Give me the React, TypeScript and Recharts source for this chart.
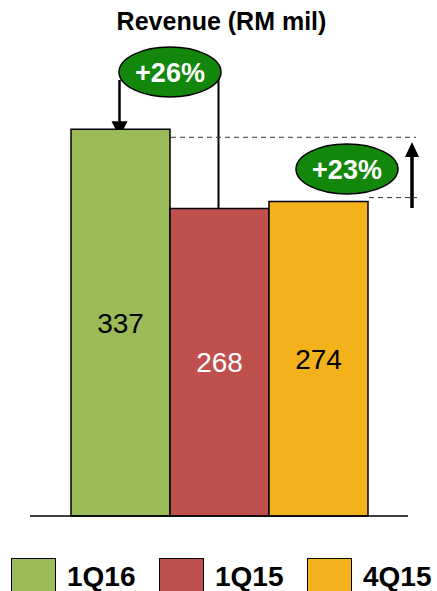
import { Bar, BarChart, XAxis, YAxis, LabelList, Customized } from 'recharts';

const categories = ['Revenue'];
const seriesNames = ['1Q16', '1Q15', '4Q15'];
const revenue = [337, 268, 274];
const barColors = ['#9BBB59', '#C0504D', '#F3B21C'];
const labelColors = ['#000000', '#ffffff', '#000000'];
const changes = ['+26%', '+23%'];

const data = categories.map((name) => {
    const row: Record<string, string | number> = { name };
    seriesNames.forEach((s, i) => {
        row[s] = revenue[i];
    });
    return row;
});

const W = 437;
const H = 530;
const M = { top: 57, right: 29, bottom: 13, left: 30 };
const Y_MAX = 400;
const BAR = 99;
const FONT = '"Liberation Sans", Arial, sans-serif';

const plotBottom = H - M.bottom - 1;
const plotH = plotBottom - M.top;
const plotW = W - M.left - M.right;
const yOf = (v: number) => plotBottom - (v / Y_MAX) * plotH;
const barLeft = (i: number) => M.left + Math.floor((plotW - BAR * 3) / 2) + BAR * i;

function Badge({ cx, cy, text }: { cx: number; cy: number; text: string }) {
    return (
        <g>
            <ellipse cx={cx} cy={cy} rx={51} ry={25} fill="#13870B" stroke="#000" strokeWidth={1.5} />
            <text x={cx} y={cy + 10} textAnchor="middle" fill="#fff" fontWeight="bold" fontSize={27} fontFamily={FONT}>
                {text}
            </text>
        </g>
    );
}

function Annotations() {
    const c0 = barLeft(0) + BAR / 2;
    const c1 = barLeft(1) + BAR / 2;
    const r0 = barLeft(1);
    const r2 = barLeft(3);
    const top0 = yOf(revenue[0]);
    const top1 = yOf(revenue[1]);
    const top2 = yOf(revenue[2]);
    const tip = top0 + 8;
    return (
        <g>
            {/* +26% callout */}
            <line x1={c0} y1={80} x2={c0} y2={tip - 14} stroke="#000" strokeWidth={2.5} />
            <polygon points={`${c0 - 8},${tip - 16} ${c0 + 8},${tip - 16} ${c0},${tip}`} fill="#000" />
            <line x1={c1} y1={74} x2={c1} y2={top1} stroke="#000" strokeWidth={2} />
            <Badge cx={r0 + 1} cy={72} text={changes[0]} />

            {/* +23% callout */}
            <line x1={r0 + 2} y1={tip} x2={416} y2={tip} stroke="#333" strokeWidth={1} strokeDasharray="5 4" />
            <line x1={r2 + 2} y1={top2 - 4} x2={417} y2={top2 - 4} stroke="#333" strokeWidth={1} strokeDasharray="5 4" />
            <line x1={412} y1={208} x2={412} y2={155} stroke="#000" strokeWidth={3.5} />
            <polygon points={`${405},${157} ${419},${157} ${412},${142}`} fill="#000" />
            <Badge cx={347} cy={169} text={changes[1]} />
        </g>
    );
}

export default function App() {
    return (
        <div style={{ position: 'absolute', left: 0, top: 0, width: W, height: 591, background: '#fff', fontFamily: FONT }}>
            <div
                style={{
                    position: 'absolute',
                    left: 0,
                    top: 5,
                    width: W,
                    textAlign: 'center',
                    fontWeight: 'bold',
                    fontSize: 25,
                    lineHeight: '32px',
                    paddingLeft: 6,
                    boxSizing: 'border-box',
                }}
            >
                Revenue (RM mil)
            </div>
            <BarChart width={W} height={H} data={data} margin={M} barGap={0} barSize={BAR}>
                <XAxis dataKey="name" tick={false} tickLine={false} height={1} axisLine={{ stroke: '#000', strokeWidth: 1.5 }} />
                <YAxis hide domain={[0, Y_MAX]} />
                {seriesNames.map((s, i) => (
                    <Bar key={s} dataKey={s} fill={barColors[i]} stroke="#000" strokeWidth={1.5} isAnimationActive={false}>
                        <LabelList dataKey={s} position="center" fill={labelColors[i]} fontSize={28} fontFamily={FONT} offset={0} />
                    </Bar>
                ))}
                <Customized component={<Annotations />} />
            </BarChart>
            <div style={{ position: 'absolute', left: 0, top: 558, width: W, height: 45 }}>
                {seriesNames.map((s, i) => (
                    <div key={s} style={{ position: 'absolute', left: [11, 159, 307][i], top: 0, display: 'flex', alignItems: 'flex-start' }}>
                        <div style={{ width: 43, height: 40, background: barColors[i], border: '1.5px solid #000' }} />
                        <span style={{ marginLeft: 11, fontWeight: 'bold', fontSize: 28, lineHeight: '34px', marginTop: 2 }}>{s}</span>
                    </div>
                ))}
            </div>
        </div>
    );
}
